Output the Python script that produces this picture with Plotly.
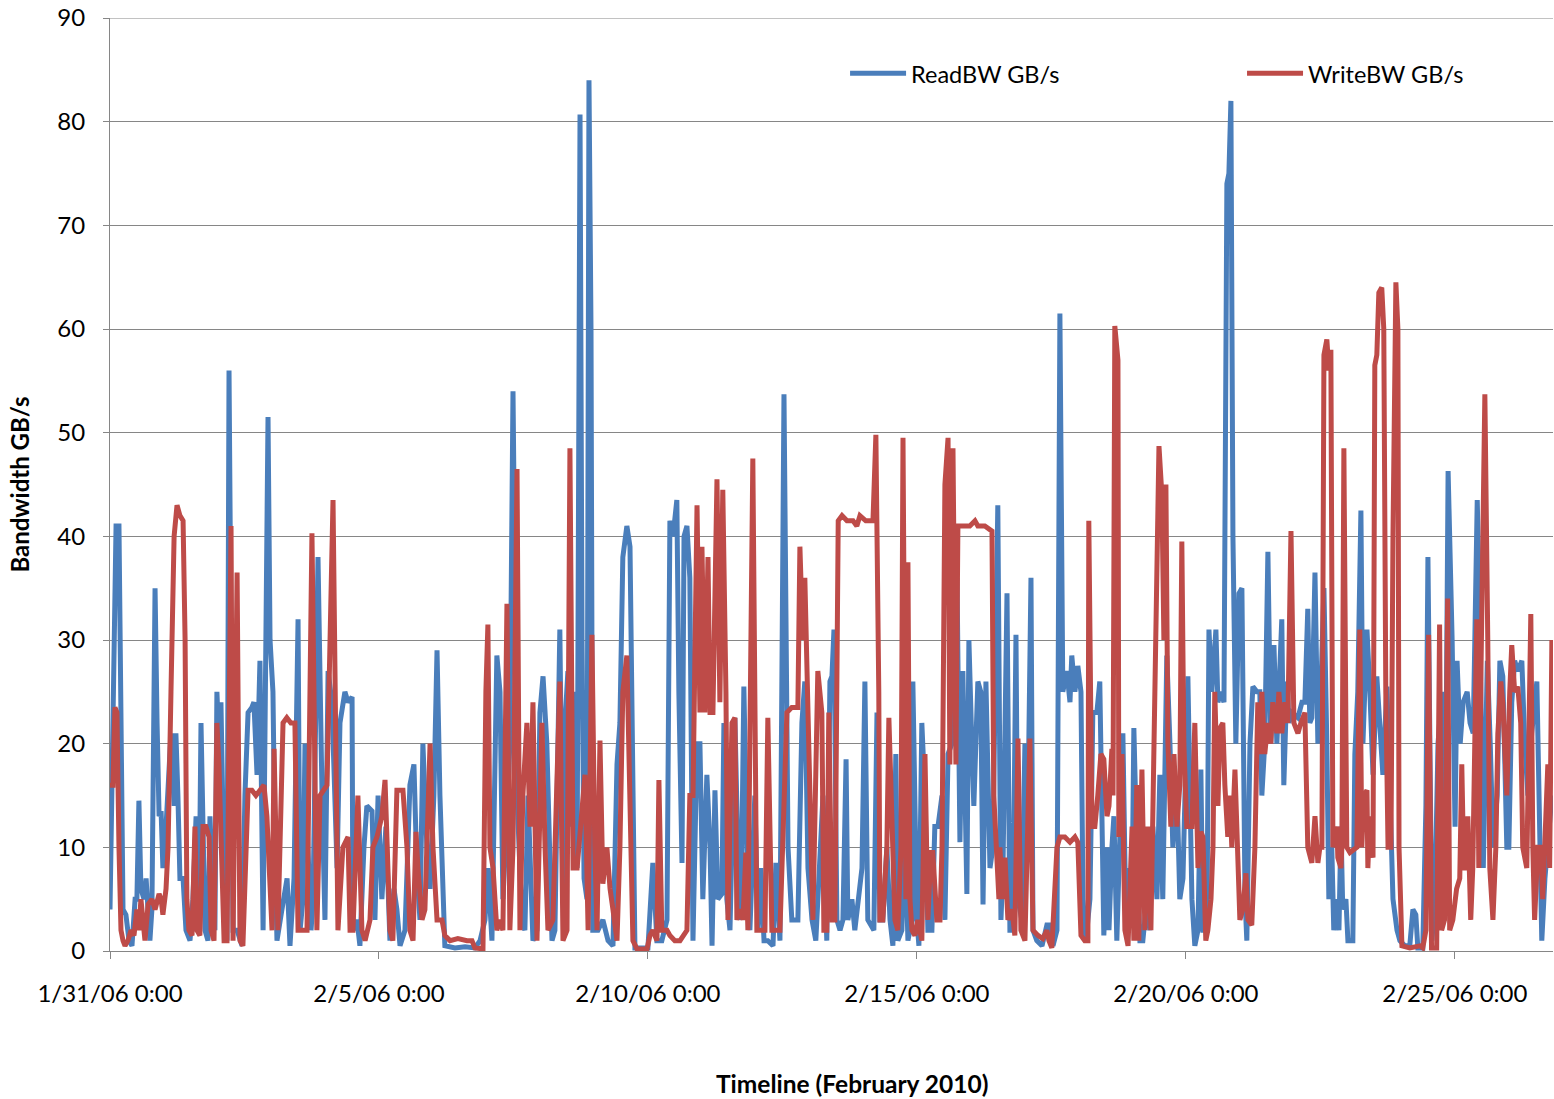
import pandas as pd
import plotly.graph_objects as go

START = "2006-01-31 00:00"

# hours since 1/31/06 0:00 and ReadBW GB/s
read_hours = [0.0, 1.3, 2.7, 4.0, 4.9, 5.8, 7.1, 8.5, 9.8, 11.2, 12.0, 12.9, 13.8, 15.2, 16.1, 17.0, 17.8, 18.7,
              20.1, 21.0, 21.9, 22.8, 23.6, 25.0, 25.9, 27.2, 28.6, 29.4, 30.3, 31.2, 32.6, 33.9, 35.7, 37.0, 38.4,
              39.7, 40.6, 41.5, 42.4, 43.7, 44.6, 45.5, 46.8, 47.7, 48.6, 49.5, 50.4, 51.3, 52.2, 53.1, 54.0,
              54.9, 56.7, 58.9, 60.2, 61.6, 63.3, 64.2, 65.6, 66.9, 68.3, 69.1, 70.5, 71.4, 72.7, 73.6, 74.5,
              76.7, 79.0, 80.3, 82.1, 83.9, 84.8, 86.1, 87.0, 88.3, 89.7, 90.6, 92.8, 94.6, 95.9, 97.3, 99.0,
              101.3, 102.6, 104.8, 106.2, 108.0, 108.4, 110.2, 111.5, 113.3, 114.6, 116.9, 118.2, 119.6, 121.3,
              123.1, 124.9, 126.7, 128.0, 129.4, 131.6, 132.9, 133.8, 135.6, 136.9, 138.3, 139.6, 141.4, 142.8,
              144.5, 145.9, 147.2, 148.1, 149.4, 153.9, 158.4, 162.8, 165.1, 167.3, 168.6, 170.4, 172.6, 174.0,
              175.3, 177.1, 178.4, 179.8, 181.6, 183.8, 185.1, 186.5, 187.4, 188.7, 190.5, 191.8, 193.2, 194.9,
              197.2, 198.5, 200.7, 202.1, 203.0, 204.3, 205.6, 207.0, 208.4, 209.7, 210.6, 211.5, 212.8, 213.7,
              214.6, 215.4, 217.7, 219.9, 222.2, 224.4, 226.2, 227.5, 228.8, 230.6, 232.0, 233.3, 234.2, 240.0,
              242.2, 244.0, 246.2, 248.5, 249.8, 251.2, 252.9, 253.8, 255.2, 256.1, 257.4, 258.7, 260.1, 261.9,
              263.2, 264.5, 266.3, 267.7, 268.6, 269.9, 271.2, 273.0, 273.9, 275.2, 276.6, 278.8, 280.1, 281.5,
              282.8, 284.2, 285.5, 287.7, 289.1, 290.4, 291.8, 293.5, 295.8, 297.1, 298.9, 300.7, 302.5, 304.2,
              306.9, 308.7, 310.0, 311.4, 313.2, 314.9, 316.7, 318.1, 319.8, 321.2, 322.1, 323.0, 324.3, 325.7,
              327.0, 328.4, 329.2, 331.0, 332.3, 333.7, 335.5, 336.8, 338.1, 340.8, 342.2, 343.5, 344.8, 346.6,
              348.0, 349.3, 350.6, 351.5, 353.3, 354.6, 356.0, 357.8, 358.2, 360.0, 360.9, 362.2, 363.6, 364.9,
              366.7, 368.0, 369.4, 371.2, 372.5, 373.9, 375.6, 377.0, 377.9, 379.2, 380.5, 382.3, 383.2, 384.5,
              385.4, 387.2, 388.5, 389.5, 390.8, 392.6, 393.9, 396.1, 397.5, 398.4, 400.2, 401.5, 402.8, 404.2,
              405.1, 406.8, 408.2, 409.5, 410.9, 411.8, 413.5, 415.8, 418.0, 419.3, 420.7, 422.5, 423.8, 425.1,
              426.9, 428.3, 429.1, 430.5, 431.8, 433.2, 434.1, 435.4, 437.2, 438.5, 440.3, 441.6, 442.5, 443.4,
              444.8, 445.7, 447.0, 447.9, 449.2, 450.6, 451.9, 453.3, 454.6, 455.9, 456.8, 458.1, 459.5, 460.8,
              462.6, 463.9, 465.3, 467.1, 468.4, 469.7, 471.5, 472.9, 474.2, 476.0, 477.3, 478.7, 480.9, 482.7,
              484.0, 485.4, 486.7, 487.6, 489.4, 490.3, 491.6, 493.4, 494.3, 495.6, 497.0, 498.3, 499.2, 500.1,
              501.0, 502.3, 503.7, 505.0, 506.4, 507.2, 508.6, 509.9, 511.7, 513.0, 513.9, 515.2, 516.6, 517.9,
              519.3, 520.6, 521.5, 522.8, 523.7, 525.1, 526.0, 527.3, 530.0, 531.8, 533.1, 534.4, 535.3, 536.2,
              537.6, 538.9, 540.2, 541.6, 542.9, 543.8, 545.1, 546.0, 547.4, 548.3, 549.2, 550.0, 551.4, 552.3,
              554.5, 555.4, 556.7, 558.1, 559.0, 560.8, 562.1, 563.5, 565.2, 566.6, 567.9, 569.7, 571.5, 572.4,
              574.2, 575.5, 577.7, 579.9, 581.3, 582.6, 583.5, 585.7, 587.1, 588.0, 589.8, 591.1, 592.5, 594.3,
              595.6, 597.0, 598.8, 600.1, 601.0, 602.4, 603.7, 605.5, 606.8, 608.2, 610.0, 611.3, 612.7, 614.5,
              615.8, 617.1, 618.9, 620.1, 621.4, 623.2, 624.1, 625.4, 626.7, 628.1, 629.9, 631.2, 632.6, 634.3,
              636.6, 637.9, 638.8, 640.2, 641.5, 643.3]
read_gbps = [4, 22, 41, 41, 22, 4, 3.5, 1, 0.5, 5, 5, 14.5, 6, 5, 7, 3, 1, 4,
             35, 22, 13, 13.5, 8, 12, 15, 21, 14, 21, 15, 7, 7, 2, 1, 5, 13,
             3, 22, 12, 2, 1, 13, 8, 2, 25, 20, 24, 10, 2, 1, 56, 30,
             2, 2, 0.5, 15, 23, 23.5, 24, 17, 28, 2, 20, 51.5, 30, 25, 10, 1,
             4, 7, 0.5, 7, 32, 2, 5, 20, 10, 2, 5, 38, 15, 3, 27, 24,
             8, 22, 25, 24, 24.5, 2, 3, 0.5, 10, 14, 13.5, 3, 15, 5,
             12, 1, 6, 4, 0.5, 2, 10, 16, 18, 8, 3, 20, 10, 6,
             15, 29, 15, 10, 0.5, 0.3, 0.4, 0.3, 1, 3, 8, 1, 28.5, 25,
             5, 13, 20, 54, 15, 3, 2, 15, 10, 1, 2, 23, 26.5, 20,
             1, 2, 31, 5, 22, 27, 12, 25, 8, 80.7, 30, 7, 5, 84,
             60, 2, 2, 3, 1, 0.5, 18, 22, 38, 41, 39, 10, 0.3, 0.3,
             8.5, 1, 1, 3, 41.5, 40, 43.5, 25, 8.5, 40, 41, 36, 1, 20,
             20, 5, 17, 10, 0.5, 15.5, 5, 5.5, 22, 5, 2, 22.5, 10, 3,
             25.5, 10, 2, 15, 2, 8, 1, 1, 0.5, 8.5, 1, 53.7, 10, 3,
             3, 22, 26, 8, 3, 1, 10, 15, 1, 26, 26.5, 31, 3, 2,
             3, 18.5, 3, 5, 2, 5, 8, 26, 3, 2, 23, 3, 3, 10,
             3, 0.5, 19, 1, 2, 12, 1, 3, 26, 3, 0.5, 22, 15, 2,
             2, 12, 12, 15, 3, 19, 20, 25, 36, 10.5, 27, 5.5, 30, 20,
             14, 26, 25, 4.5, 26, 8, 10, 43, 3, 8, 34.5, 2, 2, 30.5,
             5, 3, 20, 13, 36, 2, 1, 0.5, 2.5, 2.5, 0.5, 2, 61.5, 25,
             27, 24, 28.5, 25, 27.5, 25, 5, 1, 5, 23, 23, 26, 10, 1.5,
             10, 2, 10, 13, 1, 12, 21, 2, 8, 3, 21.5, 10, 1, 1,
             5, 2, 12, 5, 17, 5, 28.5, 20, 10, 16, 5, 7, 26.5, 5,
             0.5, 2, 17.5, 2, 2, 31, 25, 31, 24, 25, 24, 74, 75, 82,
             40, 20, 34.5, 35, 5, 1, 20, 25.5, 25, 25, 15, 20, 38.5, 20,
             29.5, 20, 25, 32, 16, 26, 22, 23, 22.5, 24, 24, 33, 22, 22.5,
             36.5, 20, 25, 35, 20, 5, 10, 2, 5, 2, 12, 4, 5, 1,
             1, 19, 25, 42.5, 20, 31, 25, 17, 26.5, 21, 17, 25.5, 10, 5,
             2, 1, 0.5, 0.5, 4, 3.5, 0.3, 0.3, 14, 38, 1, 5, 20, 25,
             5, 46.3, 30, 12, 28, 20, 24, 25, 22, 21, 43.5, 30, 8, 28,
             20, 10, 15, 28, 26.5, 10, 10, 24, 28, 27, 28, 20, 15, 21,
             26, 10, 1, 7, 10, 15]

# hours since 1/31/06 0:00 and WriteBW GB/s
write_hours = [0.0, 1.3, 2.2, 3.1, 4.0, 4.9, 5.8, 6.7, 8.0, 9.4, 10.7, 12.0, 12.9, 13.8, 14.7, 15.6, 17.0, 18.7,
               20.1, 21.0, 21.9, 22.8, 23.6, 25.0, 25.9, 27.2, 28.6, 29.9, 31.2, 32.6, 33.5, 34.3, 35.2, 36.6,
               37.9, 38.8, 40.1, 41.5, 42.8, 44.2, 45.1, 46.4, 47.7, 48.6, 49.5, 50.9, 52.2, 53.1, 54.0, 54.9,
               56.7, 58.0, 59.3, 61.6, 63.3, 65.1, 66.9, 68.7, 70.0, 72.3, 73.2, 74.9, 77.2, 78.9, 80.7, 82.5,
               83.9, 86.1, 87.9, 90.1, 92.3, 93.7, 95.5, 96.8, 99.5, 101.7, 103.9, 106.2, 107.1, 108.4, 110.6,
               112.4, 113.8, 116.0, 117.3, 119.1, 121.3, 122.7, 124.9, 126.2, 128.0, 130.7, 132.5, 133.8, 135.2,
               136.5, 137.4, 139.2, 140.5, 142.8, 144.1, 145.9, 148.1, 149.4, 151.7, 155.2, 159.3, 161.5, 162.8,
               166.4, 167.7, 168.6, 169.5, 170.9, 172.6, 174.0, 175.3, 177.1, 178.4, 179.8, 181.6, 182.9, 184.2,
               186.0, 187.4, 188.7, 190.5, 192.7, 194.1, 195.4, 197.6, 200.7, 202.1, 203.9, 205.2, 206.6, 208.4,
               210.6, 211.9, 213.3, 215.0, 216.3, 217.3, 218.6, 219.9, 221.7, 223.1, 224.4, 226.2, 227.5, 228.8,
               230.6, 232.0, 233.3, 235.1, 239.6, 240.9, 242.2, 244.0, 244.9, 246.2, 248.5, 249.8, 252.0, 254.3,
               255.6, 257.4, 258.7, 260.1, 261.9, 263.2, 264.1, 265.4, 266.8, 267.7, 269.0, 270.8, 272.1, 273.4,
               274.8, 275.7, 277.5, 278.8, 279.7, 281.0, 282.4, 283.7, 284.6, 286.8, 288.6, 292.2, 293.5, 295.3,
               298.9, 300.2, 302.0, 304.2, 306.9, 307.8, 309.1, 310.0, 311.4, 312.8, 313.6, 315.8, 317.6, 318.5,
               319.8, 320.7, 322.1, 323.4, 324.9, 326.6, 328.8, 331.5, 333.2, 334.6, 337.2, 340.4, 341.7, 343.0,
               343.5, 344.8, 346.6, 347.5, 349.3, 350.2, 351.5, 352.9, 353.8, 355.1, 356.0, 356.9, 357.8, 359.1,
               360.4, 362.2, 363.6, 364.9, 366.2, 367.1, 368.9, 370.3, 371.2, 372.5, 373.9, 374.7, 376.1, 377.4,
               378.3, 380.1, 383.6, 385.9, 387.2, 390.3, 393.5, 394.3, 395.7, 396.6, 397.0, 398.4, 399.3, 400.6,
               402.4, 403.7, 405.1, 406.4, 408.2, 410.4, 411.8, 414.0, 416.2, 418.0, 418.9, 420.2, 422.5, 423.8,
               426.0, 428.3, 430.5, 431.8, 433.2, 434.9, 436.3, 436.7, 438.1, 439.4, 440.7, 442.1, 443.4, 444.8,
               445.7, 447.0, 447.5, 448.3, 449.7, 450.1, 451.5, 452.8, 454.2, 456.0, 456.8, 458.1, 459.0, 460.4,
               461.7, 463.0, 464.4, 465.7, 467.1, 468.0, 469.3, 470.2, 471.1, 472.0, 473.3, 474.7, 476.0, 477.3,
               478.2, 479.1, 480.4, 481.8, 482.7, 484.0, 485.4, 486.7, 487.6, 488.9, 489.8, 491.2, 492.1, 492.9,
               494.3, 495.2, 496.5, 497.4, 498.7, 499.6, 500.5, 501.9, 503.2, 504.1, 505.4, 506.8, 507.7, 509.4,
               510.8, 512.1, 513.5, 513.9, 515.2, 516.6, 517.9, 518.8, 520.6, 521.5, 522.8, 524.2, 525.5, 526.9,
               528.2, 530.0, 531.3, 533.1, 534.4, 536.2, 537.6, 538.9, 539.8, 540.7, 541.6, 542.9, 543.8, 544.7,
               545.6, 547.4, 547.8, 549.2, 549.6, 550.5, 551.8, 553.2, 556.3, 557.6, 558.5, 559.4, 560.8, 561.2,
               562.1, 563.5, 564.3, 565.2, 566.1, 567.4, 568.3, 569.2, 570.2, 571.5, 572.4, 573.7, 574.6, 575.1,
               576.4, 579.9, 584.4, 585.7, 587.1, 587.4, 588.3, 589.6, 591.9, 593.2, 594.1, 595.4, 596.8, 597.7,
               599.1, 600.8, 602.2, 603.1, 604.0, 605.3, 605.8, 607.1, 608.0, 609.8, 610.7, 611.6, 612.5, 613.4,
               614.7, 615.6, 617.0, 618.3, 619.2, 620.5, 621.4, 623.2, 624.5, 625.4, 626.7, 628.1, 629.4, 630.3,
               632.1, 633.0, 633.9, 634.8, 635.6, 637.0, 638.3, 639.2, 641.0, 641.5, 642.3, 643.3]
write_gbps = [16, 16, 23.5, 23, 10, 2, 1, 0.5, 1, 2, 1.5, 4, 2, 5, 3, 1, 4.5, 5,
              4, 5, 5.5, 5, 3.5, 6, 10, 25, 40, 43, 42, 41.5, 30, 5, 2, 1.5,
              12, 2, 1.5, 12, 12, 11, 2, 1, 22, 18, 12, 1, 1, 30, 41, 1,
              36.5, 1, 0.5, 15.5, 15.5, 15, 15.5, 16, 13, 2, 19.5, 2, 22, 22.5, 22, 22,
              2, 2, 2, 40.3, 2, 15, 15.5, 16, 43.5, 2, 10, 11, 2, 2, 15,
              2, 1, 3, 10, 11, 13, 16.5, 2, 1, 15.5, 15.5, 10, 2, 1,
              11.5, 8, 3, 4, 20, 10, 3, 3, 1.5, 1, 1.2, 1, 1, 0.3,
              0.2, 25, 31.5, 10, 8, 2, 3, 2, 33.5, 2, 10, 46.5, 2, 15,
              22, 12, 24, 1, 22, 10, 2, 3, 26, 1, 2, 48.5, 8, 8,
              13, 17, 2, 30.5, 10, 2, 20.3, 6.5, 10, 6, 4, 1, 10, 25,
              28.5, 15, 1, 0.2, 0.2, 1.5, 2, 1, 16.5, 2, 2, 1.5, 1, 1,
              1.5, 2, 15, 15, 43, 23, 39, 23, 38, 23, 23, 45.5, 24, 44.5,
              25, 3, 22, 22.5, 3, 4, 3, 9.5, 2, 47.5, 2, 2, 22.5, 2,
              2, 12, 23, 23.5, 23.5, 39, 30, 36, 24, 12, 3, 27, 23, 2,
              2, 23, 3, 3, 41.5, 42, 41.5, 41.5, 41, 42, 41.5, 41.5, 49.8, 25,
              3, 3, 10, 22.5, 10, 3, 2, 10, 49.5, 5, 37.5, 5, 2, 1.5,
              3, 1, 19, 3, 9.5, 9.5, 3, 3, 10, 45, 49.5, 18, 48.5, 18,
              41, 41, 41, 41.5, 41, 41, 40.5, 15, 10, 5, 10, 5, 9, 3,
              4, 1.5, 20.5, 2, 1, 20.5, 2, 1.5, 1.2, 2, 1, 0.3, 10, 11,
              11, 10.5, 11, 10.5, 1.5, 1, 1, 41.5, 12, 12, 15, 19, 18.5, 13,
              14, 19.5, 15, 60.3, 57, 11, 19, 2, 0.5, 12, 1, 16, 1, 17.5,
              2, 12, 2, 20, 35, 48.7, 44, 30, 45, 20, 12, 19, 12, 16,
              39.5, 20, 12, 12, 12, 22, 8, 11.5, 11, 1, 2, 5, 10, 25,
              14, 21.5, 22, 16, 11, 15, 10, 17.5, 10, 3, 4, 7.5, 3, 2.5,
              10, 24, 19, 25, 19, 22, 20, 24, 21, 25, 21, 24, 22, 40.5,
              22, 21, 22, 23, 10, 8.5, 13, 8.5, 10, 10, 57.5, 59, 56, 58,
              10, 12, 9, 8, 10, 48.5, 10, 9.5, 10, 31, 10, 15, 15.5, 8,
              13, 9, 56.5, 57.5, 63.5, 64, 60, 25, 10, 10, 40, 64.5, 60, 10,
              0.5, 0.3, 0.5, 0.3, 2, 10, 30.5, 0.3, 0.3, 31.5, 2, 3, 34, 2,
              3, 6, 7, 18, 8, 8, 13, 3, 8, 32, 8, 26, 46, 53.7,
              30, 8, 3, 10, 21, 26, 24, 15, 25, 29.5, 25, 25.5, 22, 10,
              8, 24, 32.5, 10, 3, 10, 10, 5, 15, 18, 8, 30]

x_tick_labels = ["1/31/06 0:00", "2/5/06 0:00", "2/10/06 0:00", "2/15/06 0:00", "2/20/06 0:00", "2/25/06 0:00"]
x_tick_days = [0, 5, 10, 15, 20, 25]
x_end_hours = 643.8
y_ticks = list(range(0, 91, 10))

t0 = pd.Timestamp(START)
read_t = t0 + pd.to_timedelta(read_hours, unit="h")
write_t = t0 + pd.to_timedelta(write_hours, unit="h")
tick_vals = [t0 + pd.Timedelta(days=d) for d in x_tick_days]
x_end = t0 + pd.Timedelta(hours=x_end_hours)

FONT = "Lato, 'Open Sans', sans-serif"
GRID = "#868686"

fig = go.Figure()
fig.add_trace(go.Scatter(x=read_t, y=read_gbps, mode="lines", name="ReadBW GB/s",
                         line=dict(color="#4A7EBB", width=5), legend="legend"))
fig.add_trace(go.Scatter(x=write_t, y=write_gbps, mode="lines", name="WriteBW GB/s",
                         line=dict(color="#BE4B48", width=5), legend="legend2"))

legend_common = dict(orientation="h", y=0.964, xanchor="left", yanchor="top",
                     font=dict(size=23.5), itemwidth=56, bgcolor="rgba(0,0,0,0)")

fig.update_layout(
    width=1554, height=1099,
    margin=dict(l=110, r=1, t=18, b=148),
    paper_bgcolor="white", plot_bgcolor="white",
    font=dict(family=FONT, size=24, color="black"),
    showlegend=True,
    legend=dict(x=0.5094, **legend_common),
    legend2=dict(x=0.7845, **legend_common),
    xaxis=dict(type="date", range=[t0, x_end], tickvals=tick_vals, ticktext=x_tick_labels,
               showgrid=False, showline=True, linecolor=GRID, linewidth=1,
               ticks="outside", ticklen=7, tickcolor=GRID, ticklabelstandoff=14,
               tickfont=dict(size=24)),
    yaxis=dict(range=[0, 90], tickvals=y_ticks, showgrid=True, gridcolor=GRID,
               gridwidth=1, showline=True, linecolor=GRID, linewidth=1, zeroline=False,
               ticks="outside", ticklen=6, tickcolor=GRID, ticklabelstandoff=13,
               tickfont=dict(size=24),
               title=dict(text="<b>Bandwidth GB/s</b>", font=dict(size=24), standoff=20)),
    shapes=[dict(type="line", xref="paper", x0=0, x1=1, yref="y", y0=y_ticks[-1], y1=y_ticks[-1],
                 line=dict(color=GRID, width=1), layer="below")],
    annotations=[dict(text="<b>Timeline (February 2010)</b>", xref="paper", yref="paper",
                      x=0.5142, y=-0.1415, xanchor="center", yanchor="middle", showarrow=False,
                      font=dict(size=24.5))],
)

fig.write_html("out.html", config={"displayModeBar": False},
               post_script="document.body.style.margin='0';document.body.style.overflow='hidden';")
